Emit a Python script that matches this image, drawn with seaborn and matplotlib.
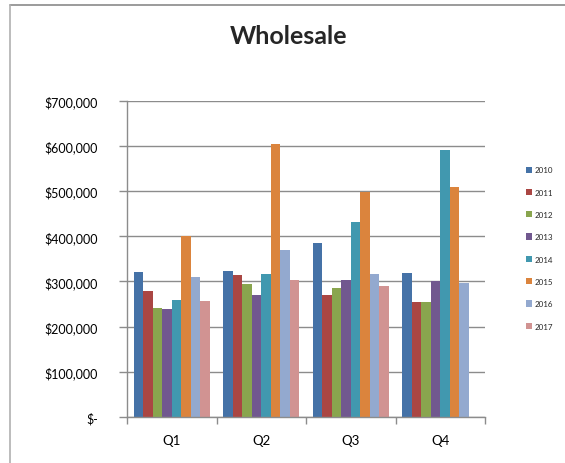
import matplotlib
matplotlib.use('Agg')
import matplotlib.pyplot as plt
import matplotlib.ticker as mticker
from matplotlib.lines import Line2D
import seaborn as sns
import numpy as np
import pandas as pd

quarters = ['Q1', 'Q2', 'Q3', 'Q4']
years = ['2010', '2011', '2012', '2013', '2014', '2015', '2016', '2017']
sales = {
    '2010': [322000, 324000, 384000, 319000],
    '2011': [278000, 314000, 271000, 254000],
    '2012': [241000, 294000, 286000, 254000],
    '2013': [239000, 269000, 303000, 300000],
    '2014': [259000, 316000, 431000, 590000],
    '2015': [400000, 605000, 499000, 509000],
    '2016': [309000, 369000, 316000, 296000],
    '2017': [257000, 303000, 291000, np.nan],
}
colors = ['#4572A7', '#AA4643', '#89A54E', '#71588F',
          '#4198AF', '#DB843D', '#93A9CF', '#D19392']

rows = []
for y in years:
    for q, v in zip(quarters, sales[y]):
        rows.append({'Quarter': q, 'Year': y, 'Sales': v})
df = pd.DataFrame(rows)

sns.set_theme(style='white')
plt.rcParams['font.family'] = ['Lato', 'DejaVu Sans']

fig = plt.figure(figsize=(5.65, 4.64), dpi=100)
ax = fig.add_axes([127 / 565, 1 - 418 / 464, 358 / 565, 316.3 / 464])

sns.barplot(data=df, x='Quarter', y='Sales', hue='Year', order=quarters,
            hue_order=years, palette=colors, saturation=1, width=0.85,
            linewidth=0, ax=ax, legend=True)

ax.set_ylim(0, 700000)
ax.set_xlim(-0.5, 3.5)
ax.yaxis.set_major_locator(mticker.MultipleLocator(100000))
ax.yaxis.set_major_formatter(mticker.FuncFormatter(
    lambda v, p: '$-' if v == 0 else '${:,.0f}'.format(v)))
ax.yaxis.grid(True, color='#8c8c8c', linewidth=1)
ax.set_axisbelow(True)
ax.set_xlabel('')
ax.set_ylabel('')

for s in ['top', 'right']:
    ax.spines[s].set_visible(False)
for s in ['left', 'bottom']:
    ax.spines[s].set_color('#8c8c8c')
    ax.spines[s].set_linewidth(1)

ax.tick_params(axis='y', which='major', left=True, length=6, width=1,
               color='#8c8c8c', pad=15, labelsize=9, labelcolor='black')
ax.set_xticks(np.arange(-0.5, 4, 1), minor=True)
ax.tick_params(axis='x', which='minor', bottom=True, length=5, width=1,
               color='#8c8c8c')
ax.tick_params(axis='x', which='major', bottom=False, pad=6, labelsize=9.5,
               labelcolor='black')

fig.text(289 / 565, 1 - 37 / 464, 'Wholesale', ha='center', va='center',
         fontsize=18, fontweight='bold')

handles, labels = ax.get_legend_handles_labels()
ax.legend(handles, labels, loc='center left',
          bbox_to_anchor=(522 / 565, 1 - 249 / 464),
          bbox_transform=fig.transFigure, frameon=False, fontsize=5.8,
          handlelength=0.8, handleheight=0.8, handletextpad=0.3,
          labelspacing=1.9, borderpad=0)

# chart-area frame (only top and left edges visible in the crop)
fig.add_artist(Line2D([9.5 / 565, 1], [1 - 5.5 / 464, 1 - 5.5 / 464],
                      transform=fig.transFigure, color='#8a8a8a', lw=1.2))
fig.add_artist(Line2D([9.5 / 565, 9.5 / 565], [0, 1 - 5.5 / 464],
                      transform=fig.transFigure, color='#b0b0b0', lw=1.2))

fig.savefig('out.png', dpi=100, facecolor='white')
